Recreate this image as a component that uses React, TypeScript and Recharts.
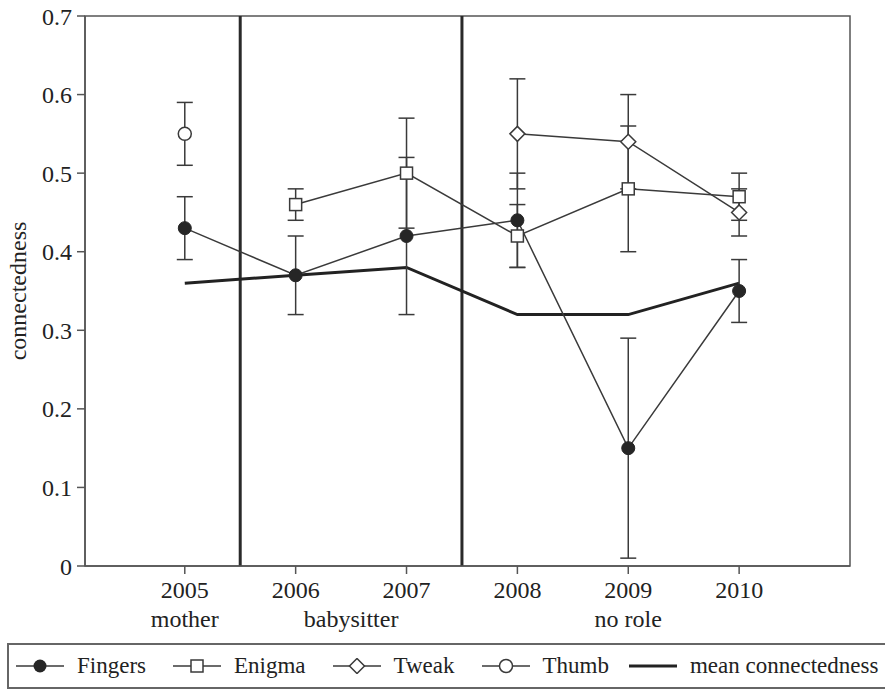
import React from "react";
import {
  LineChart, Line, XAxis, YAxis, ErrorBar, ReferenceLine, ReferenceArea, Legend,
} from "recharts";

const years = [2005, 2006, 2007, 2008, 2009, 2010];
const fingers = [0.43, 0.37, 0.42, 0.44, 0.15, 0.35];
const fingersErr = [0.04, 0.05, 0.1, 0.06, 0.14, 0.04];
const enigma = [null, 0.46, 0.5, 0.42, 0.48, 0.47];
const enigmaErr = [null, 0.02, 0.07, 0.04, 0.08, 0.03];
const tweak = [null, null, null, 0.55, 0.54, 0.45];
const tweakErr = [null, null, null, 0.07, 0.06, 0.03];
const thumb = [0.55, null, null, null, null, null];
const thumbErr = [0.04, null, null, null, null, null];
const meanConnectedness = [0.36, 0.37, 0.38, 0.32, 0.32, 0.36];

const yTicks = [0, 0.1, 0.2, 0.3, 0.4, 0.5, 0.6, 0.7];
const roleBreaks = [2005.5, 2007.5];
const rolePositions = [2005, 2006.5, 2009];
const roleLabels = ["mother", "babysitter", "no role"];
const xDomain = [2004.1, 2011];

const data = years.map((year, i) => ({
  year,
  fingers: fingers[i],
  fingersErr: fingersErr[i],
  enigma: enigma[i],
  enigmaErr: enigmaErr[i],
  tweak: tweak[i],
  tweakErr: tweakErr[i],
  thumb: thumb[i],
  thumbErr: thumbErr[i],
  mean: meanConnectedness[i],
}));

const INK = "#3a3a3a";
const FONT = "Liberation Serif, DejaVu Serif, serif";

const FilledDot = (p: any) =>
  p.cx == null || p.cy == null || p.value == null ? <g key={p.key} /> :
    <circle key={p.key} cx={p.cx} cy={p.cy} r={6.5} fill="#262626" stroke="#262626" />;
const OpenDot = (p: any) =>
  p.cx == null || p.cy == null || p.value == null ? <g key={p.key} /> :
    <circle key={p.key} cx={p.cx} cy={p.cy} r={6.5} fill="#fff" stroke={INK} strokeWidth={1.5} />;
const SquareDot = (p: any) =>
  p.cx == null || p.cy == null || p.value == null ? <g key={p.key} /> :
    <rect key={p.key} x={p.cx - 6} y={p.cy - 6} width={12} height={12} fill="#fff" stroke={INK} strokeWidth={1.5} />;
const DiamondDot = (p: any) =>
  p.cx == null || p.cy == null || p.value == null ? <g key={p.key} /> :
    <polygon key={p.key} points={`${p.cx},${p.cy - 7.5} ${p.cx + 7.5},${p.cy} ${p.cx},${p.cy + 7.5} ${p.cx - 7.5},${p.cy}`} fill="#fff" stroke={INK} strokeWidth={1.5} />;

const legendItems = [
  { name: "Fingers", shape: "filled" },
  { name: "Enigma", shape: "square" },
  { name: "Tweak", shape: "diamond" },
  { name: "Thumb", shape: "open" },
  { name: "mean connectedness", shape: "line" },
];

function LegendMarker({ shape }: { shape: string }) {
  return (
    <svg width={48} height={16} style={{ display: "block" }}>
      <line x1={0} y1={8} x2={48} y2={8} stroke={shape === "line" ? "#222" : INK} strokeWidth={shape === "line" ? 3 : 1.5} />
      {shape === "filled" && <circle cx={24} cy={8} r={6.5} fill="#262626" />}
      {shape === "open" && <circle cx={24} cy={8} r={6.5} fill="#fff" stroke={INK} strokeWidth={1.5} />}
      {shape === "square" && <rect x={18} y={2} width={12} height={12} fill="#fff" stroke={INK} strokeWidth={1.5} />}
      {shape === "diamond" && <polygon points="24,0.5 31.5,8 24,15.5 16.5,8" fill="#fff" stroke={INK} strokeWidth={1.5} />}
    </svg>
  );
}

const renderLegend = () => (
  <div style={{
    display: "flex", alignItems: "center", height: 46, boxSizing: "border-box",
    border: "2px solid #666", borderRight: "none", paddingLeft: 7,
    fontFamily: FONT, fontSize: 23, color: "#222", whiteSpace: "nowrap",
  }}>
    {legendItems.map((it, i) => (
      <div key={it.name} style={{ display: "flex", alignItems: "center", marginRight: i === 3 ? 20 : 27 }}>
        <LegendMarker shape={it.shape} />
        <span style={{ marginLeft: 13 }}>{it.name}</span>
      </div>
    ))}
  </div>
);

const YLabel = (props: any) => {
  const vb = props.viewBox || {};
  const x = (vb.x ?? 0) + 18;
  const y = (vb.y ?? 0) + (vb.height ?? 0) / 2;
  return (
    <text x={x} y={y} transform={`rotate(-90 ${x} ${y})`} textAnchor="middle" dominantBaseline="central"
      fontFamily={FONT} fontSize={24} fill="#222">connectedness</text>
  );
};

export default function App() {
  const tickStyle = { fontFamily: FONT, fontSize: 24, fill: "#222" };
  return (
    <div style={{ position: "absolute", left: 0, top: 0, width: 885, height: 691, overflow: "hidden", background: "#fff", fontFamily: FONT }}>
      <LineChart width={885} height={691} data={data} margin={{ top: 16, right: 35, left: 0, bottom: 0 }}>
        <ReferenceArea x1={xDomain[0]} x2={xDomain[1]} y1={0} y2={0.7} fill="none" stroke="#555" strokeWidth={1.5} ifOverflow="extendDomain" />
        <XAxis dataKey="year" type="number" domain={xDomain} ticks={years} interval={0}
          allowDataOverflow tick={tickStyle} tickSize={8} tickMargin={7} height={28}
          stroke="#555" strokeWidth={1.5} />
        <XAxis xAxisId="role" dataKey="year" type="number" domain={xDomain} ticks={rolePositions} interval={0}
          allowDataOverflow tick={tickStyle} tickFormatter={(v: number) => roleLabels[rolePositions.indexOf(v)] ?? ""}
          axisLine={false} tickLine={false} tickSize={0} tickMargin={16} height={51} />
        <YAxis type="number" domain={[0, 0.7]} ticks={yTicks} interval={0} width={85}
          tick={tickStyle} tickSize={8} tickMargin={5} stroke="#555" strokeWidth={1.5}
          tickFormatter={(v: number) => (v === 0 ? "0" : v.toFixed(1))}
          label={<YLabel />} />
        {roleBreaks.map((x) => (
          <ReferenceLine key={x} x={x} stroke="#2a2a2a" strokeWidth={3} />
        ))}
        {/* invisible series so the role axis gets a scale */}
        <Line xAxisId="role" dataKey="mean" stroke="none" dot={false} activeDot={false} legendType="none" isAnimationActive={false} />
        <Line dataKey="mean" stroke="#222" strokeWidth={3} dot={false} isAnimationActive={false} />
        <Line dataKey="thumb" stroke={INK} strokeWidth={1.5} dot={OpenDot} isAnimationActive={false}>
          <ErrorBar dataKey="thumbErr" width={8} stroke={INK} strokeWidth={1.5} />
        </Line>
        <Line dataKey="tweak" stroke={INK} strokeWidth={1.5} dot={DiamondDot} isAnimationActive={false}>
          <ErrorBar dataKey="tweakErr" width={8} stroke={INK} strokeWidth={1.5} />
        </Line>
        <Line dataKey="enigma" stroke={INK} strokeWidth={1.5} dot={SquareDot} isAnimationActive={false}>
          <ErrorBar dataKey="enigmaErr" width={8} stroke={INK} strokeWidth={1.5} />
        </Line>
        <Line dataKey="fingers" stroke={INK} strokeWidth={1.5} dot={FilledDot} isAnimationActive={false}>
          <ErrorBar dataKey="fingersErr" width={8} stroke={INK} strokeWidth={1.5} />
        </Line>
        <Legend verticalAlign="bottom" content={renderLegend} wrapperStyle={{ left: 7, width: 878, bottom: 2 }} />
      </LineChart>
    </div>
  );
}
